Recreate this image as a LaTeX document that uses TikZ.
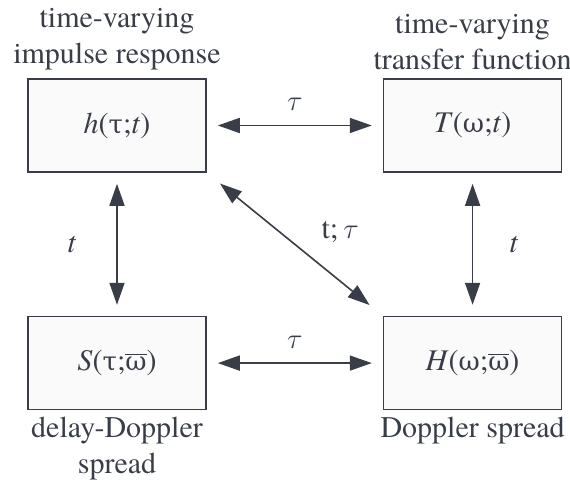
\documentclass[tikz,border=0pt]{standalone}
\usepackage{fontspec}
\setmainfont{texgyretermes}[
    Extension=.otf,
    UprightFont=*-regular,
    ItalicFont=*-italic,
    BoldFont=*-bold,
    BoldItalicFont=*-bolditalic]
\newfontfamily\greekfont{DejaVu Serif}
\usepackage{xcolor}
\usepackage{tikz}
\usetikzlibrary{positioning, arrows.meta}

\definecolor{lineclr}{RGB}{56,61,71}
\definecolor{boxfill}{RGB}{250,250,250}
\newcommand{\gtau}{{\greekfont\fontsize{13}{15}\selectfont τ}}
\newcommand{\gomega}{{\greekfont\fontsize{13}{15}\selectfont ω}}
\newcommand{\wbar}{\(\overline{\mbox{\gomega}}\)}
\newcommand{\itau}{\(\tau\)}

\begin{document}
\begin{tikzpicture}[
    node distance=71.5pt and 88pt,
    every node/.style={text=lineclr, font=\rmfamily\fontsize{15}{18}\selectfont},
    box/.style={
        draw=lineclr, line width=0.8pt, fill=boxfill,
        minimum width=89pt, minimum height=46.5pt, align=center
    },
    caption/.style={align=center, inner sep=0pt},
    lbl/.style={inner sep=1pt},
    biarr/.style={
        {Triangle[length=11pt, width=7.5pt]}-{Triangle[length=11pt, width=7.5pt]},
        draw=lineclr, line width=0.8pt, shorten <=5.5pt, shorten >=5.5pt
    }
]

% --- frame ---
\useasboundingbox (-58.5pt,62.75pt) rectangle (226.5pt,-179.75pt);

% --- The four functions ---
\node[box] (h) {\textit{h}(\gtau;\textit{t})};
\node[box, right=of h] (T) {\textit{T}(\gomega;\textit{t})};
\node[box, below=of h] (S) {\textit{S}(\gtau;\wbar)};
\node[box, right=of S] (H) {\textit{H}(\gomega;\wbar)};

% --- Captions ---
\node[caption, above=4pt of h] (hcap) {time-varying\\impulse response};
\node[caption, above=4pt of T] (Tcap) {time-varying\\transfer function};
\node[caption, below=3pt of S] (Scap) {delay-Doppler\\spread};
\node[caption, below=3pt of H] (Hcap) {Doppler spread};

% --- Arrows ---
\draw[biarr] (h) -- node[lbl, above=6pt] {\itau} (T);
\draw[biarr] (S) -- node[lbl, above=6pt] {\itau} (H);
\draw[biarr] (h) -- node[lbl, left=19pt] {\textit{t}} (S);
\draw[biarr] (T) -- node[lbl, right=17pt] {\textit{t}} (H);
\draw[biarr, shorten <=8.5pt, shorten >=8.5pt] (h.south east) --
    node[lbl, right=12pt, yshift=6pt] {t;\,\itau} (H.north west);

\end{tikzpicture}
\end{document}
